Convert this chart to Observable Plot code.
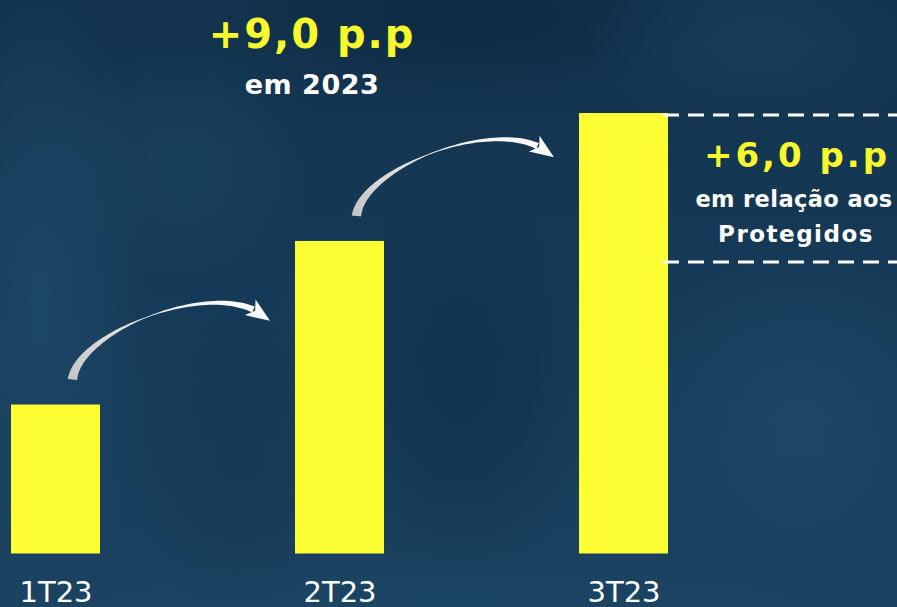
<!DOCTYPE html>
<html><head><meta charset="utf-8">
<script src="https://cdn.jsdelivr.net/npm/d3@7"></script>
<script src="https://cdn.jsdelivr.net/npm/@observablehq/plot@0.6"></script>
<style>
html,body{margin:0;padding:0;background:#163b57;overflow:hidden}
#chart svg{display:block}
</style></head><body><div id="chart"></div>
<script>
// ---- data ----
const quarters = ["1T23", "2T23", "3T23"];
const values = [4.6, 9.65, 13.6];
const protegidosValue = 9.0;
const headlineLines = ["+9,0 p.p", "em 2023"];
const sideNoteLines = ["+6,0 p.p", "em relação aos", "Protegidos"];

const data = quarters.map((q, i) => ({quarter: q, value: values[i]}));

const W = 897, H = 607;
const FONT = "'DejaVu Sans', sans-serif";
const YELLOW = "#fdfd33";
const TEXT_YELLOW = "#f8f82c";

// background (soft navy photo look)
function background(index, scales, vals, dims) {
  const g = d3.create("svg:g");
  const defs = g.append("defs");
  const lg = defs.append("linearGradient").attr("id", "bgGrad").attr("x1", 0).attr("y1", 0).attr("x2", 0).attr("y2", 1);
  lg.append("stop").attr("offset", "0%").attr("stop-color", "#12324d");
  lg.append("stop").attr("offset", "45%").attr("stop-color", "#153a57");
  lg.append("stop").attr("offset", "100%").attr("stop-color", "#1a4260");
  const ag = defs.append("linearGradient").attr("id", "arrowGrad").attr("x1", 0).attr("y1", 1).attr("x2", 1).attr("y2", 0);
  ag.append("stop").attr("offset", "0%").attr("stop-color", "#c4c4c4");
  ag.append("stop").attr("offset", "55%").attr("stop-color", "#e6e6e6");
  ag.append("stop").attr("offset", "100%").attr("stop-color", "#ffffff");
  g.append("rect").attr("x", 0).attr("y", 0).attr("width", dims.width).attr("height", dims.height).attr("fill", "url(#bgGrad)");
  const B = [
    [40, 300, 110, 340, "#1e4968", 0.8],
    [180, 160, 140, 120, "#1c4664", 0.6],
    [470, 20, 240, 80, "#0c2a43", 0.9],
    [460, 380, 140, 200, "#0f2f4a", 0.7],
    [800, 420, 170, 170, "#1f4a69", 0.7],
    [760, 40, 180, 90, "#1a4260", 0.6],
    [450, 607, 520, 60, "#1c4665", 0.8],
    [240, 450, 110, 170, "#12344f", 0.5]
  ];
  B.forEach(([cx, cy, rx, ry, c, o], i) => {
    const rg = defs.append("radialGradient").attr("id", "blob" + i);
    rg.append("stop").attr("offset", "0%").attr("stop-color", c).attr("stop-opacity", o);
    rg.append("stop").attr("offset", "50%").attr("stop-color", c).attr("stop-opacity", o * 0.6);
    rg.append("stop").attr("offset", "100%").attr("stop-color", c).attr("stop-opacity", 0);
    g.append("ellipse").attr("cx", cx).attr("cy", cy).attr("rx", rx).attr("ry", ry).attr("fill", `url(#blob${i})`);
  });
  return g.node();
}

// tapered curved arrows between consecutive bars
function arrows(index, scales, vals, dims) {
  const {x, y} = scales;
  const bw = x.bandwidth ? x.bandwidth() : 89;
  const g = d3.create("svg:g");
  const P0 = [0, 0], P1 = [5, -45], P2 = [125, -95], P3 = [181, -70];
  const bez = t => {
    const u = 1 - t;
    return [0, 1].map(k => u*u*u*P0[k] + 3*u*u*t*P1[k] + 3*u*t*t*P2[k] + t*t*t*P3[k]);
  };
  const der = t => {
    const u = 1 - t;
    return [0, 1].map(k => 3*u*u*(P1[k]-P0[k]) + 6*u*t*(P2[k]-P1[k]) + 3*t*t*(P3[k]-P2[k]));
  };
  const wid = t => t < 0.5 ? 9.5 - 8.7 * (t / 0.5) : 0.8 + 5.6 * Math.pow((t - 0.5) / 0.5, 1.2);
  const N = 60, left = [], right = [];
  for (let i = 0; i <= N; i++) {
    const t = i / N, p = bez(t), d = der(t);
    const L = Math.hypot(d[0], d[1]);
    const n = [-d[1] / L, d[0] / L];
    const w = wid(t) / 2;
    left.push([p[0] + n[0]*w, p[1] + n[1]*w]);
    right.push([p[0] - n[0]*w, p[1] - n[1]*w]);
  }
  const body = "M" + left.map(p => p.join(",")).join("L") + "L" + right.reverse().map(p => p.join(",")).join("L") + "Z";
  const d1 = der(1), L1 = Math.hypot(d1[0], d1[1]);
  let u = [d1[0] / L1, d1[1] / L1];
  const a = 0.18, ca = Math.cos(a), sa = Math.sin(a);
  u = [u[0]*ca - u[1]*sa, u[0]*sa + u[1]*ca];
  const n = [-u[1], u[0]];
  const tip = [P3[0] + u[0]*20, P3[1] + u[1]*20];
  const b1 = [P3[0] + n[0]*9.5 - u[0]*4, P3[1] + n[1]*9.5 - u[1]*4];
  const b2 = [P3[0] - n[0]*9.5 - u[0]*4, P3[1] - n[1]*9.5 - u[1]*4];
  const notch = [P3[0] + u[0]*2, P3[1] + u[1]*2];
  const head = `M${b1}L${tip}L${b2}L${notch}Z`;
  for (let i = 0; i < quarters.length - 1; i++) {
    const sx = x(quarters[i]) + bw / 2 + 17;
    const sy = y(values[i]) - 25;
    const ar = g.append("g").attr("transform", `translate(${sx},${sy})`);
    ar.append("path").attr("d", body + head).attr("fill", "url(#arrowGrad)");
  }
  return g.node();
}

// dashed reference lines (3T23 vs Protegidos)
function dashes(index, scales, vals, dims) {
  const {x, y} = scales;
  const bw = x.bandwidth ? x.bandwidth() : 89;
  const g = d3.create("svg:g");
  const x0 = x(quarters[2]) + bw - 5;
  for (const yy of [y(values[2]) + 2, y(protegidosValue)]) {
    g.append("line").attr("x1", x0).attr("x2", dims.width).attr("y1", yy).attr("y2", yy)
      .attr("stroke", "white").attr("stroke-width", 3).attr("stroke-dasharray", "16,9");
  }
  return g.node();
}

const chart = Plot.plot({
  width: W,
  height: H,
  marginLeft: 0,
  marginRight: 0,
  marginTop: 0,
  marginBottom: 54,
  style: {background: "transparent", overflow: "visible"},
  x: {domain: quarters, range: [0, 679], paddingInner: 0.6866, paddingOuter: 0.0387, axis: null},
  y: {domain: [0, 17], range: [553.5, 2.9], axis: null},
  marks: [
    background,
    Plot.barY(data, {x: "quarter", y: "value", fill: YELLOW}),
    arrows,
    dashes,
    Plot.text(data, {x: "quarter", text: "quarter", frameAnchor: "bottom", lineAnchor: "bottom", dy: 48,
      fill: "white", fontSize: 29, fontFamily: FONT, fontWeight: "normal"}),
    Plot.text([headlineLines[0]], {x: () => quarters[1], text: d => d, frameAnchor: "top", lineAnchor: "bottom",
      dy: 47, dx: -28, fill: TEXT_YELLOW, fontSize: 40, fontFamily: FONT, fontWeight: "bold"}),
    Plot.text([headlineLines[1]], {x: () => quarters[1], text: d => d, frameAnchor: "top", lineAnchor: "bottom",
      dy: 93, dx: -28, fill: "white", fontSize: 27, fontFamily: FONT, fontWeight: "bold"}),
    Plot.text([sideNoteLines[0]], {x: () => quarters[2], text: d => d, frameAnchor: "top", lineAnchor: "bottom",
      dy: 166, dx: 173, fill: TEXT_YELLOW, fontSize: 34, fontFamily: FONT, fontWeight: "bold"}),
    Plot.text([sideNoteLines[1]], {x: () => quarters[2], text: d => d, frameAnchor: "top", lineAnchor: "bottom",
      dy: 206, dx: 170, fill: "white", fontSize: 22.5, fontFamily: FONT, fontWeight: "bold"}),
    Plot.text([sideNoteLines[2]], {x: () => quarters[2], text: d => d, frameAnchor: "top", lineAnchor: "bottom",
      dy: 241, dx: 172, fill: "white", fontSize: 23, fontFamily: FONT, fontWeight: "bold"})
  ]
});

// letter spacing to match the wide tracking of the original typeface
const spacing = new Map([
  [headlineLines[0], 2], [headlineLines[1], 0.5], [sideNoteLines[0], 3],
  [sideNoteLines[1], 0.4], [sideNoteLines[2], 1.5]
]);
d3.select(chart).selectAll("text").each(function() {
  const t = this.textContent;
  if (spacing.has(t)) this.setAttribute("letter-spacing", spacing.get(t));
});

document.getElementById("chart").append(chart);
</script>
</body></html>
